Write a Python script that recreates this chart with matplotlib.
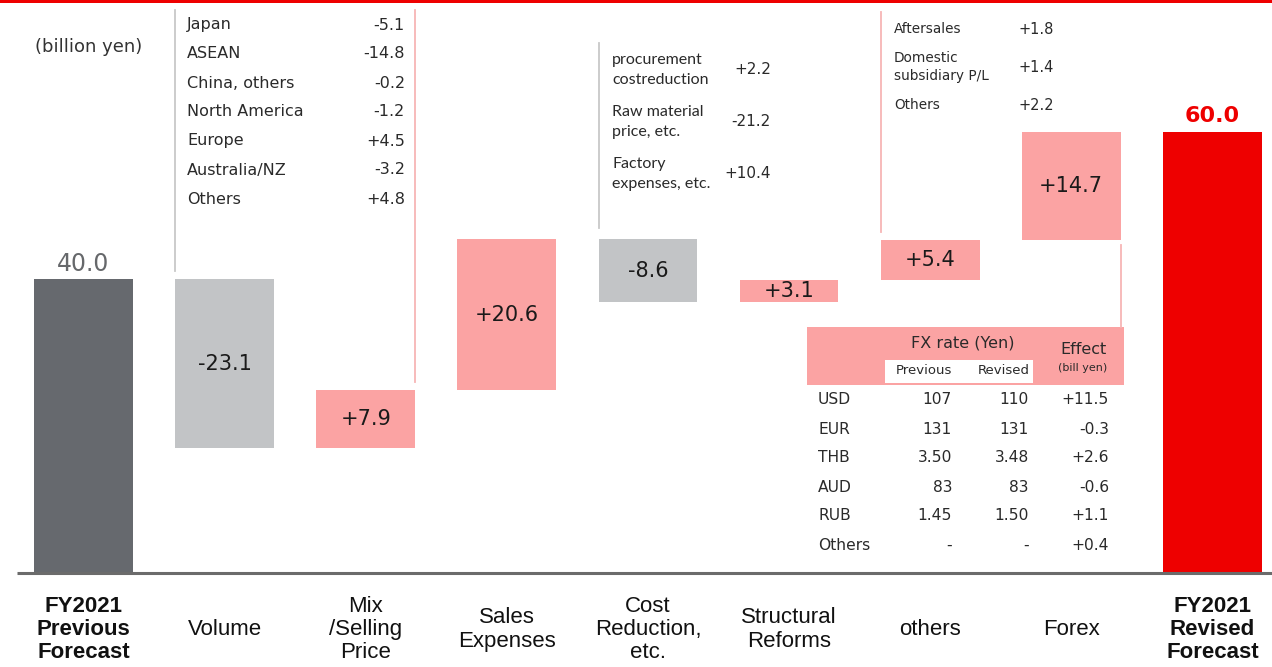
import matplotlib
matplotlib.use("Agg")
import matplotlib.pyplot as plt
import matplotlib.transforms as mtransforms
from matplotlib.patches import Rectangle
import numpy as np

# ---- data -------------------------------------------------------------
categories = ["FY2021\nPrevious\nForecast", "Volume", "Mix\n/Selling\nPrice",
              "Sales\nExpenses", "Cost\nReduction,\netc.", "Structural\nReforms",
              "others", "Forex", "FY2021\nRevised\nForecast"]
start_total = 40.0
changes = [-23.1, 7.9, 20.6, -8.6, 3.1, 5.4, 14.7]
end_total = 60.0

volume_regions = ["Japan", "ASEAN", "China, others", "North America",
                  "Europe", "Australia/NZ", "Others"]
volume_values = ["-5.1", "-14.8", "-0.2", "-1.2", "+4.5", "-3.2", "+4.8"]

cost_items = ["procurement\ncostreduction", "Raw material\nprice, etc.",
              "Factory\nexpenses, etc."]
cost_values = ["+2.2", "-21.2", "+10.4"]

other_items = ["Aftersales", "Domestic\nsubsidiary P/L", "Others"]
other_values = ["+1.8", "+1.4", "+2.2"]

fx_currencies = ["USD", "EUR", "THB", "AUD", "RUB", "Others"]
fx_previous = ["107", "131", "3.50", "83", "1.45", "-"]
fx_revised = ["110", "131", "3.48", "83", "1.50", "-"]
fx_effect = ["+11.5", "-0.3", "+2.6", "-0.6", "+1.1", "+0.4"]

# ---- styling ----------------------------------------------------------
W, H = 1272, 667
DARK_GRAY = "#66696e"
LIGHT_GRAY = "#c2c4c6"
PINK = "#fba3a3"
RED = "#ee0000"
TXT = "#2a2a2a"
plt.rcParams["font.family"] = ["DejaVu Sans"]

fig = plt.figure(figsize=(W / 100, H / 100), dpi=100)
ax = fig.add_axes([0, 0, 1, 1])
ax.set_xlim(-0.592, 8.423)
ax.set_ylim(-12.87, 78.0)
ax.axis("off")

# pixel-based transform (origin top-left) for free-standing layout items
px = mtransforms.Affine2D().scale(1 / W, -1 / H).translate(0, 1) + fig.transFigure
x_data_y_px = mtransforms.blended_transform_factory(ax.transData, px)

# ---- waterfall bars ---------------------------------------------------
n = len(categories)
xs = np.arange(n)
bar_w = 0.70
running = start_total + np.concatenate([[0], np.cumsum(changes)])
bottoms = [0.0] + [min(running[i], running[i + 1]) for i in range(len(changes))] + [0.0]
heights = [start_total] + [abs(c) for c in changes] + [end_total]
colors = [DARK_GRAY] + [PINK if c > 0 else LIGHT_GRAY for c in changes] + [RED]
ax.bar(xs, heights, bottom=bottoms, width=bar_w, color=colors, linewidth=0, zorder=2)

# totals above their bars
ax.text(xs[0], start_total + 0.45, f"{start_total:.1f}", ha="center", va="bottom",
        fontsize=17, color="#66686b")
ax.text(xs[-1], end_total + 0.8, f"{end_total:.1f}", ha="center", va="bottom",
        fontsize=16, color=RED, fontweight="bold")

# change values inside the bars
for i, c in enumerate(changes, start=1):
    ax.text(xs[i], bottoms[i] + heights[i] / 2, f"{c:+.1f}", ha="center",
            va="center", fontsize=15, color="#1a1a1a", zorder=3)

# baseline
ax.plot([-0.47, 8.423], [0, 0], color="#6b6b6b", lw=2.2, solid_capstyle="butt", zorder=3)

# category labels
for i, cat in enumerate(categories):
    bold = i in (0, n - 1)
    ax.text(xs[i], -7.75, cat, ha="center", va="center", fontsize=16,
            family=["Liberation Sans", "DejaVu Sans"], linespacing=1.15,
            fontweight="bold" if bold else "normal", color="#111111")

# unit
ax.text(89, 47, "(billion yen)", transform=px, ha="center", va="center",
        fontsize=13, color="#333333")

# top red rule
ax.add_patch(Rectangle((0, 0), W, 3, transform=px, color=RED, lw=0, clip_on=False))

# ---- volume breakdown -------------------------------------------------
ax.plot([xs[1] - bar_w / 2] * 2, [10, 271], transform=x_data_y_px,
        color="#c8c8c8", lw=1.3)
ax.plot([xs[2] + bar_w / 2] * 2, [10, 382], transform=x_data_y_px,
        color="#f7b5b5", lw=1.3)
for k, (lab, val) in enumerate(zip(volume_regions, volume_values)):
    y = 25 + k * 29
    ax.text(187, y, lab, transform=px, ha="left", va="center", fontsize=11.5, color=TXT)
    ax.text(405, y, val, transform=px, ha="right", va="center", fontsize=11.5, color=TXT)

# ---- cost reduction breakdown -----------------------------------------
ax.plot([xs[4] - bar_w / 2] * 2, [43, 228], transform=x_data_y_px,
        color="#c8c8c8", lw=1.3)
for k, (lab, val) in enumerate(zip(cost_items, cost_values)):
    y = 70 + k * 52
    ax.text(612, y, lab, transform=px, ha="left", va="center", fontsize=11.5,
            family=["Lato", "DejaVu Sans"], linespacing=1.6, color=TXT)
    ax.text(771, y, val, transform=px, ha="right", va="center", fontsize=11, color=TXT)

# ---- others breakdown --------------------------------------------------
ax.plot([xs[6] - bar_w / 2] * 2, [12, 232], transform=x_data_y_px,
        color="#f7b5b5", lw=1.3)
for lab, val, y in zip(other_items, other_values, [29, 67, 105]):
    ax.text(894, y, lab, transform=px, ha="left", va="center", fontsize=9.8,
            linespacing=1.4, color=TXT)
    ax.text(1018, y, val, transform=px, ha="left", va="center", fontsize=10.5, color=TXT)

# ---- forex table -------------------------------------------------------
ax.plot([xs[7] + bar_w / 2] * 2, [245, 327], transform=x_data_y_px,
        color="#f7b5b5", lw=1.3)
ax.add_patch(Rectangle((807, 327), 317, 58, transform=px, color=PINK, lw=0))
ax.add_patch(Rectangle((885, 360), 148, 23, transform=px, color="white", lw=0))
ax.text(963, 343, "FX rate (Yen)", transform=px, ha="center", va="center",
        fontsize=11.5, color=TXT)
ax.text(924, 371, "Previous", transform=px, ha="center", va="center",
        fontsize=9.5, color=TXT)
ax.text(1004, 371, "Revised", transform=px, ha="center", va="center",
        fontsize=9.5, color=TXT)
ax.text(1083, 349, "Effect", transform=px, ha="center", va="center",
        fontsize=11.5, color=TXT)
ax.text(1083, 368, "(bill yen)", transform=px, ha="center", va="center",
        fontsize=8, color=TXT)
for k, (cur, pv, rv, ef) in enumerate(zip(fx_currencies, fx_previous, fx_revised, fx_effect)):
    y = 400 + k * 29
    ax.text(818, y, cur, transform=px, ha="left", va="center", fontsize=11.2, color=TXT)
    ax.text(952, y, pv, transform=px, ha="right", va="center", fontsize=11.2, color=TXT)
    ax.text(1029, y, rv, transform=px, ha="right", va="center", fontsize=11.2, color=TXT)
    ax.text(1109, y, ef, transform=px, ha="right", va="center", fontsize=11.2, color=TXT)

fig.savefig("out.png", dpi=100)
